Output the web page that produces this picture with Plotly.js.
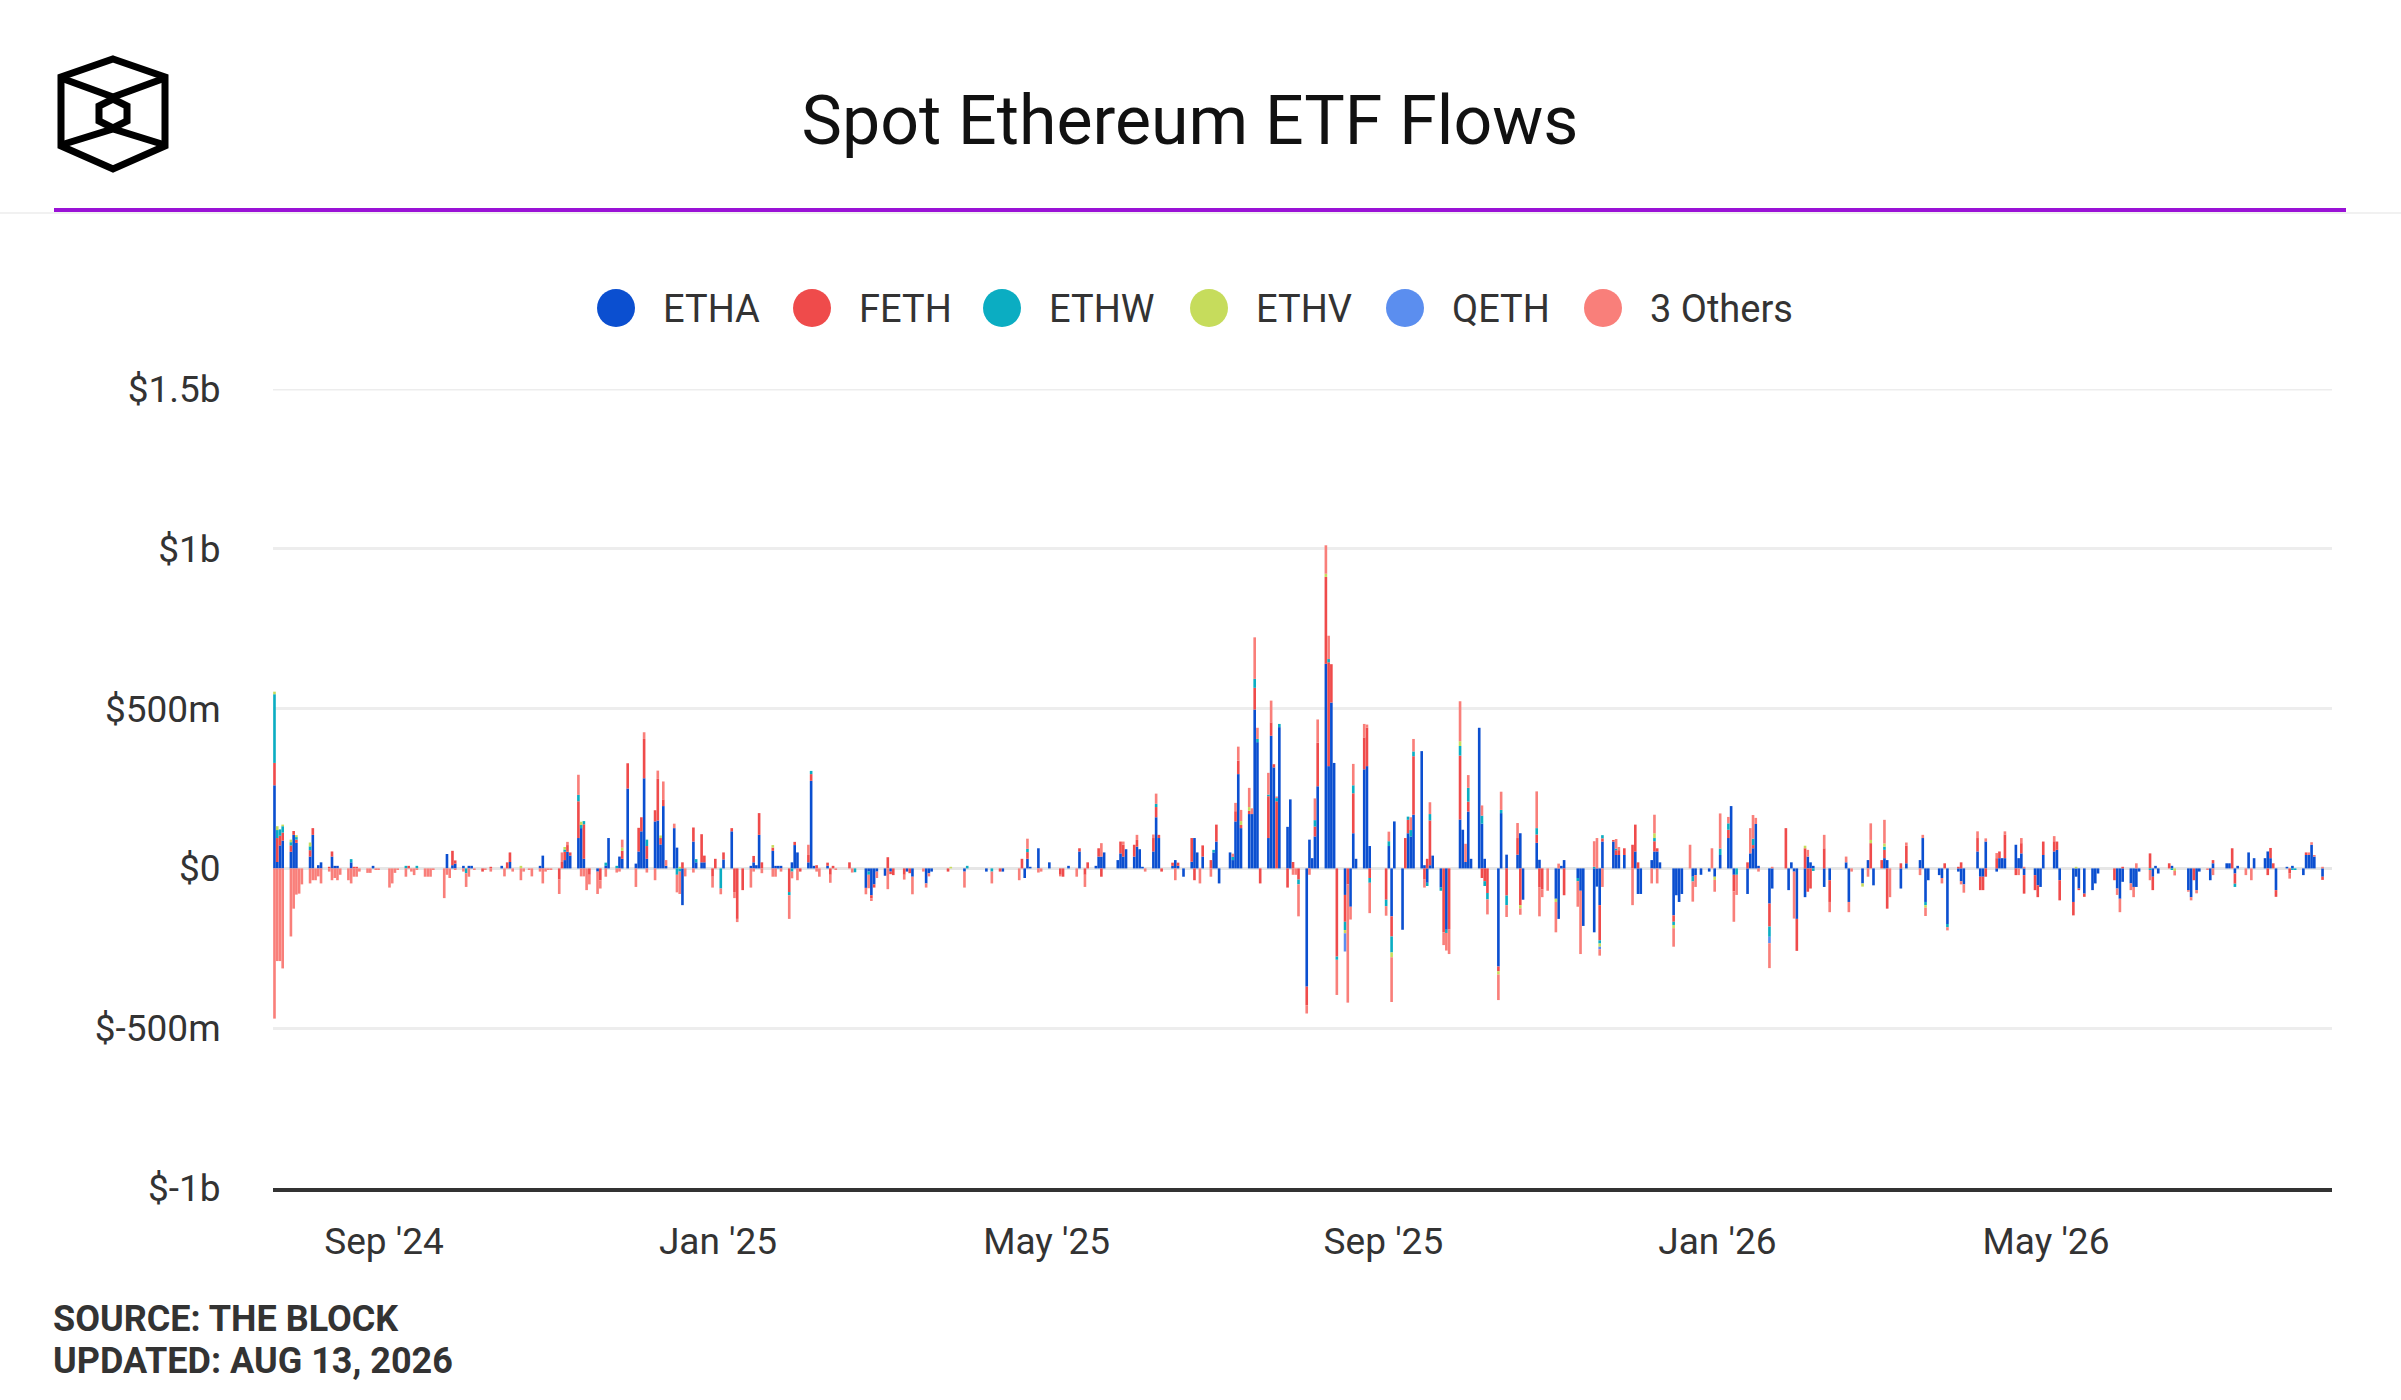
<!DOCTYPE html>
<html><head><meta charset="utf-8">
<script src="https://cdn.plot.ly/plotly-3.0.1.min.js"></script>
<style>html,body{margin:0;padding:0;background:#fff}#chart{width:2401px;height:1400px}</style>
</head><body><div id="chart"></div>
<script>
// ---- DATA (US$ millions, daily net flows, one row per week Mon..Fri starting 2024-07-22) ----
const firstMonday = [2024, 6, 22];
const seriesNames = ['ETHA', 'FETH', 'ETHW', 'ETHV', 'QETH', '3 Others'];
const seriesColors = ['#0b4fd0', '#ef4b4b', '#0badc2', '#c6dc5c', '#5b8eef', '#f97f7a'];
const xTickVals = ['2024-09-01', '2025-01-01', '2025-05-01', '2025-09-01', '2026-01-01', '2026-05-01'];
const xTickText = ["Sep '24", "Jan '25", "May '25", "Sep '25", "Jan '26", "May '26"];
const yTickVals = [-1000, -500, 0, 500, 1000, 1500];
const yTickText = ['$-1b', '$-500m', '$0', '$500m', '$1b', '$1.5b'];

const ETHA_weeks = [
[0,260,20,72,87],[52,105,80,0,0],[37,105,0,10,19],[0,37,8,8,0],[0,19,0,0,0],[0,0,8,0,0],[0,0,0,0,0],[0,0,0,0,0],[0,0,0,0,0],[0,45,0,10,15],
[8,0,8,8,0],[0,0,0,0,0],[8,0,0,20,0],[0,0,0,0,0],[8,40,0,0,0],[0,0,26,52,40],[95,126,30,0,0],[-10,0,0,8,95],[0,37,30,0,250],[15,53,116,282,30],
[147,150,75,195,8],[126,65,0,-115,0],[84,19,0,19,19],[0,0,0,0,28],[116,0,0,0,0],[8,19,10,105,0],[0,55,8,8,8],[0,19,73,50,0],[19,274,8,0,0],[8,0,0,0,0],
[0,0,0,0,0],[-61,-10,-84,-50,-10],[-23,0,-10,0,0],[0,-10,0,-26,0],[0,-47,-15,-10,0],[0,0,0,0,0],[0,-10,0,0,0],[0,0,-10,0,0],[0,-10,0,0,0],[0,0,-30,30,5],
[63,0,0,0,19],[0,0,0,0,8],[0,53,0,0,0],[8,37,37,50,0],[0,26,47,37,60],[37,68,60,5,0],[53,160,95,0,0],[8,26,8,0,-26],[21,95,50,0,37],[0,50,84,-47,0],
[50,26,147,295,126],[170,170,497,395,0],[95,415,316,0,442],[130,216,0,0,0],[-370,90,32,100,257],[640,320,519,330,0],[-83,0,-120,110,30],[310,320,70,0,0],[0,0,70,-150,147],[-192,0,110,100,168],
[367,10,-45,10,40],[-60,0,-192,0,0],[153,121,20,178,30],[440,140,30,0,0],[-307,173,0,43,0],[43,110,-98,0,0],[80,27,0,0,0],[-95,-158,8,26,0],[0,-30,-70,-180,0],[-200,-57,-115,84,0],
[84,42,42,0,42],[0,53,-80,-80,0],[26,53,53,19,0],[0,-147,-84,-105,-80],[0,-26,-21,0,-20],[-10,0,-26,0,42],[95,195,-20,0,0],[-80,47,63,139,8],[0,-110,-63,0,0],[0,-68,19,-10,-158],
[-90,37,19,8,0],[-58,0,-37,0,0],[0,19,-105,0,0],[-47,0,26,0,-53],[0,32,26,0,0],[-63,0,16,0,0],[26,95,-105,-37,0],[-21,-30,0,-174,0],[-10,-40,-50,0,0],[53,-26,-26,84,0],
[-10,32,32,32,0],[74,32,47,-21,0],[-21,-53,-58,42,0],[53,58,-37,0,0],[-105,-26,-63,0,-79],[-68,-47,-16,0,0],[0,0,-63,-95,-42],[-47,-58,-58,-10,0],[0,-26,8,-16,0],[0,8,0,0,0],
[-68,-90,0,-68,-10],[0,-37,16,0,0],[16,16,0,-16,8],[0,50,0,32,0],[32,53,32,0,-68],[0,5,0,8,0],[-21,42,42,74,37],[-26,0,0,0]
];
const FETH_weeks = [
[0,70,75,30,25],[20,12,10,0,0],[20,21,0,0,0],[5,16,0,0,0],[0,0,5,5,0],[0,0,0,0,0],[0,0,0,0,0],[0,8,0,0,0],[0,0,0,0,0],[0,0,0,45,10],
[0,0,0,0,0],[-10,0,0,5,0],[0,0,19,30,0],[0,0,0,0,0],[0,0,0,0,0],[-35,20,26,21,10],[115,0,108,0,-20],[0,-37,0,0,0],[0,0,25,0,79],[0,74,44,123,40],
[35,130,20,21,0],[0,0,0,19,0],[44,0,0,88,21],[-26,30,0,0,22],[10,-74,-158,0,-68],[0,20,0,68,19],[0,10,0,0,0],[-74,0,10,0,-10],[23,21,0,10,0],[10,-20,8,0,0],
[0,19,0,0,0],[0,0,-10,-10,0],[0,35,-8,-21,0],[-20,0,-15,0,0],[0,0,0,0,0],[0,0,-10,0,0],[0,0,0,0,0],[0,0,0,0,0],[-10,0,0,0,0],[0,30,0,21,0],
[0,0,0,0,0],[0,-20,-26,0,0],[0,10,0,-20,19],[0,26,-26,0,0],[0,0,37,37,0],[37,21,0,0,0],[42,32,10,-10,0],[10,0,10,0,0],[74,-37,0,0,35],[26,0,53,0,0],
[0,0,32,42,10],[10,0,68,0,-47],[131,42,10,210,0],[-60,0,20,0,-35],[-58,0,0,31,136],[272,325,120,0,-276],[-84,-50,0,125,0],[100,120,-30,0,0],[0,-98,0,-63,0],[0,95,42,0,183],
[0,-35,30,140,0],[0,-200,0,-190,0],[200,0,0,31,0],[0,-30,-40,-77,0],[-15,0,0,-85,0],[52,-115,0,0,0],[26,-60,-65,0,0],[0,0,0,-84,0],[0,0,0,0,0],[0,0,-110,10,0],
[5,15,15,0,21],[74,84,19,0,0],[0,32,10,0,0],[0,-20,0,0,0],[0,0,0,0,0],[0,0,0,0,0],[26,0,-52,0,0],[19,0,10,0,0],[0,-72,0,0,0],[126,0,0,0,-100],
[63,-73,-63,0,0],[63,0,-68,0,0],[0,0,0,0,0],[0,0,0,79,0],[26,26,-126,0,0],[16,0,55,0,0],[0,0,0,0,0],[0,0,16,0,0],[5,19,0,0,0],[42,-42,-42,-26,0],
[32,21,0,74,0],[-21,0,32,-58,0],[-47,-37,0,42,0],[32,26,-63,0,0],[-42,0,-5,0,-10],[0,0,0,0,0],[0,-37,0,0,5],[0,0,0,0,0],[47,-42,0,0,0],[16,0,0,0,0],
[0,0,-37,0,0],[0,0,10,0,0],[0,0,63,-32,0],[0,0,0,0,0],[0,-21,32,16,-21],[0,0,-16,0,0],[0,8,0,0,0],[-10,0,0,0]
];
const OTHERS_weeks = [
[0,-470,-290,-290,-313],[-213,-126,-82,-79,-50],[-47,-37,-37,-25,-47],[-10,-37,-30,-37,-20],[-37,-47,-26,-26,-10],[-14,-14,0,-5,-5],[0,-60,-47,-14,-5],[-26,0,-10,-21,-5],[-26,-26,-26,-5,0],[-93,-20,-30,0,-5],
[-10,-43,-26,0,-5],[0,-5,0,-10,0],[0,-25,0,0,-10],[-37,-10,0,-5,-25],[-10,-47,-10,-5,-5],[-45,30,0,10,0],[63,-25,-25,-68,-30],[-70,-26,0,-26,0],[-13,-10,25,0,0],[-58,0,0,21,-13],
[-37,26,0,56,18],[14,-55,-70,0,-25],[-13,0,0,0,0],[-34,0,0,-18,0],[0,-19,-10,0,0],[-60,-10,0,0,-15],[0,-26,-26,0,-10],[-74,-21,0,-37,0],[32,0,0,-10,-26],[0,-25,0,-5,0],
[0,0,-13,0,0],[-20,-42,-8,0,-20],[0,-65,0,0,0],[-15,0,0,-55,0],[-10,-13,-10,0,0],[0,0,0,0,0],[0,-50,0,0,0],[0,0,0,0,-37],[0,0,0,0,0],[-37,0,0,32,0],
[-13,-10,0,0,0],[0,-5,0,0,0],[-26,0,0,-38,0],[0,0,42,0,0],[0,0,0,10,0],[0,16,0,0,-10],[11,32,0,0,0],[0,-37,0,0,0],[0,0,0,-47,0],[-26,0,0,0,0],
[0,10,26,44,35],[60,18,130,35,0],[68,68,0,5,0],[0,0,-20,-20,-100],[-26,-20,0,68,73],[89,73,0,0,-110],[0,-370,-40,67,0],[42,10,-95,0,0],[0,-30,30,-140,0],[0,0,0,40,39],
[0,-25,0,37,0],[0,-40,-55,-78,0],[125,0,57,40,0],[0,32,0,-47,0],[-80,57,0,-37,0],[47,-20,0,0,0],[115,-90,-25,0,-70],[-95,15,0,0,0],[0,-80,-198,0,0],[80,95,-20,-58,0],
[0,30,10,0,0],[-115,0,0,0,0],[-47,58,-47,0,0],[0,-58,0,0,0],[74,-63,-37,0,0],[0,63,-37,0,110],[20,0,-95,-63,0],[0,79,74,19,-10],[0,-78,5,0,0],[0,0,0,-147,0],
[0,21,0,0,0],[42,0,-32,0,0],[0,18,-32,-10,0],[0,0,-26,52,0],[0,74,0,-90,0],[0,0,10,0,0],[-21,10,-26,0,0],[0,-17,0,-10,0],[0,-10,-26,0,0],[21,0,0,10,0],
[16,0,0,10,0],[0,-21,16,5,0],[0,0,0,0,0],[16,0,0,0,0],[0,0,0,0,0],[0,0,0,0,0],[0,0,-20,-42,0],[-21,-32,16,0,0],[-32,0,0,0,0],[0,0,-14,0,0],
[-5,-10,0,-10,0],[-5,0,-21,0,0],[0,0,0,0,0],[-21,0,-37,0,0],[0,0,0,0,0],[0,0,-16,0,0],[0,0,8,8,5],[5,0,0,0]
];
const ETHW_dates = ['2024-07-23','2024-07-24','2024-07-25','2024-07-26','2024-07-29','2024-07-31','2024-08-05','2024-08-20','2024-09-09','2024-09-13','2024-10-01','2024-11-06','2024-11-11','2024-11-12','2024-11-13','2024-11-21','2024-11-25','2024-12-06','2024-12-17','2024-12-18','2024-12-24','2025-01-02','2025-01-27','2025-01-28','2025-02-04','2025-02-20','2025-02-25','2025-04-02','2025-04-11','2025-04-24','2025-06-10','2025-07-01','2025-07-08','2025-07-16','2025-07-17','2025-07-21','2025-07-24','2025-07-25','2025-08-01','2025-08-07','2025-08-12','2025-08-15','2025-08-18','2025-08-21','2025-08-27','2025-09-02','2025-09-03','2025-09-04','2025-09-10','2025-09-11','2025-09-12','2025-09-17','2025-09-18','2025-09-22','2025-09-24','2025-09-29','2025-10-02','2025-10-07','2025-10-08','2025-10-09','2025-10-14','2025-10-16','2025-10-27','2025-11-11','2025-11-17','2025-11-19','2025-11-20','2025-11-25','2025-12-09','2025-12-16','2025-12-23','2026-01-02','2026-01-05','2026-01-08','2026-01-14','2026-01-20','2026-02-05','2026-03-03','2026-03-18','2026-03-26','2026-06-08','2026-06-16','2026-07-09','2026-07-30','2026-07-31'];
const ETHW_values = [215,25,20,20,10,8,12,10,8,8,-15,7,20,10,10,10,8,20,-20,-10,10,-63,-10,-10,10,-12,-10,8,-10,10,10,8,10,28,10,5,10,10,-15,20,10,-10,-26,25,-15,-20,15,-50,10,20,15,-10,20,-10,-10,30,43,25,-15,-20,10,-30,20,-10,5,-10,10,5,10,-10,-15,20,20,-20,20,-32,-8,10,-10,-10,-5,-5,-10,-5,-5];
const ETHV_dates = ['2024-07-23','2024-07-24','2024-07-26','2024-07-29','2024-07-31','2024-08-05','2024-10-21','2024-11-06','2024-11-12','2024-11-27','2024-12-11','2024-12-18','2025-01-21','2025-03-27','2025-07-11','2025-07-14','2025-08-11','2025-08-18','2025-09-04','2025-09-29','2025-10-13','2025-10-21','2025-11-03','2025-11-19','2025-12-09','2025-12-16','2025-12-31','2026-02-02','2026-02-23','2026-02-26','2026-03-03','2026-03-18','2026-05-12','2026-06-17'];
const ETHV_values = [8,12,5,8,6,12,8,8,10,10,8,5,8,5,12,12,10,-10,-15,15,-10,-10,-10,-10,15,-10,-10,8,-10,10,10,-8,5,-8];
const QETH_dates = ['2025-08-18','2025-11-19','2026-01-20'];
const QETH_values = [-57,-8,-20];

// ---- build ----
function pad(n){return (n<10?'0':'')+n;}
function weekDates(weeks){
  const out=[];
  weeks.forEach((row,w)=>row.forEach((_,d)=>{
    const dt=new Date(Date.UTC(firstMonday[0],firstMonday[1],firstMonday[2]+7*w+d));
    out.push(dt.getUTCFullYear()+'-'+pad(dt.getUTCMonth()+1)+'-'+pad(dt.getUTCDate()));
  }));
  return out;
}
const flat = a => a.reduce((s,r)=>s.concat(r),[]);
const dailyDates = weekDates(ETHA_weeks);

const traceData = [
  {x: dailyDates, y: flat(ETHA_weeks)},
  {x: dailyDates, y: flat(FETH_weeks)},
  {x: ETHW_dates, y: ETHW_values},
  {x: ETHV_dates, y: ETHV_values},
  {x: QETH_dates, y: QETH_values},
  {x: dailyDates, y: flat(OTHERS_weeks)}
];
const traces = traceData.map((t,i)=>({
  type:'bar', name: seriesNames[i], x:t.x, y:t.y,
  marker:{color: seriesColors[i], line:{width:0}}, showlegend:false
}));

// pixel -> paper helpers (plot area 273..2332 x, 389..1188 y)
const L=273, R=2332, T=389, B=1188;
const px = x => (x-L)/(R-L);
const py = y => (B-y)/(B-T);

const shapes = [];
const annotations = [];
// top gridline at $1.5b (edge of range)
shapes.push({type:'line', xref:'paper', yref:'y', x0:0, x1:1, y0:1500, y1:1500, line:{color:'#ededed', width:3}, layer:'below'});
// header rules
shapes.push({type:'line', xref:'paper', yref:'paper', x0:px(0), x1:px(2401), y0:py(213), y1:py(213), line:{color:'#ececec', width:1.5}});
shapes.push({type:'line', xref:'paper', yref:'paper', x0:px(54), x1:px(2346), y0:py(210), y1:py(210), line:{color:'#9a12d6', width:4}});
// logo (cube outline)
function poly(pts, close){return 'M '+pts.map(p=>px(p[0])+','+py(p[1])).join(' L ')+(close?' Z':'');}
const logoLine = {color:'#000', width:7};
shapes.push({type:'path', xref:'paper', yref:'paper', path: poly([[113,59],[165,77],[165,146],[113,169],[61,146],[61,77]], true), line:logoLine, fillcolor:'rgba(0,0,0,0)'});
shapes.push({type:'path', xref:'paper', yref:'paper', path: poly([[61,78],[113,97],[165,78]], false), line:logoLine});
shapes.push({type:'path', xref:'paper', yref:'paper', path: poly([[61,145],[113,129],[165,145]], false), line:logoLine});
shapes.push({type:'path', xref:'paper', yref:'paper', path: poly([[113,99],[127,106],[127,121],[113,128],[99,121],[99,106]], true), line:logoLine, fillcolor:'#fff'});

// legend (manual)
const legCirc = [616, 812, 1002, 1209, 1405, 1603];
const legText = [661, 857, 1047, 1254, 1450, 1648];
seriesNames.forEach((n,i)=>{
  shapes.push({type:'circle', xref:'paper', yref:'paper', xsizemode:'pixel', ysizemode:'pixel',
    xanchor:px(legCirc[i]), yanchor:py(308), x0:-19, x1:19, y0:-19, y1:19,
    fillcolor:seriesColors[i], line:{width:0}});
  annotations.push({xref:'paper', yref:'paper', x:px(legText[i]), y:py(309), xanchor:'left', yanchor:'middle',
    text:n, showarrow:false, font:{family:'Roboto', size:38, color:'#333'}});
});
// source
annotations.push({xref:'paper', yref:'paper', x:px(51), y:py(1319), xanchor:'left', yanchor:'middle', showarrow:false,
  text:'<b>SOURCE: THE BLOCK</b>', font:{family:'Roboto', size:36, color:'#333'}});
annotations.push({xref:'paper', yref:'paper', x:px(51), y:py(1361), xanchor:'left', yanchor:'middle', showarrow:false,
  text:'<b>UPDATED: AUG 13, 2026</b>', font:{family:'Roboto', size:36, color:'#333'}});

const layout = {
  width:2401, height:1400,
  margin:{l:L, r:2401-R, t:T, b:1400-B, pad:0},
  paper_bgcolor:'#fff', plot_bgcolor:'#fff',
  font:{family:'Roboto', color:'#333'},
  title:{text:'Spot Ethereum ETF Flows', font:{family:'Roboto', size:68, color:'#111'},
    x:1190/2401, xanchor:'center', xref:'container', y:1-120/1400, yanchor:'middle', yref:'container'},
  barmode:'relative', bargap:0.04,
  showlegend:false,
  xaxis:{type:'date', range:['2024-07-22 11:00','2026-08-13 11:00'], tickvals:xTickVals, ticktext:xTickText,
    tickfont:{family:'Roboto', size:37, color:'#333'}, ticks:'outside', ticklen:18, tickcolor:'rgba(0,0,0,0)',
    showgrid:false, zeroline:false, showline:true, linecolor:'#333', linewidth:4, fixedrange:true},
  yaxis:{range:[-1000,1500], tickvals:yTickVals, ticktext:yTickText,
    tickfont:{family:'Roboto', size:37, color:'#333'}, ticks:'outside', ticklen:44, tickcolor:'rgba(0,0,0,0)',
    showgrid:true, gridcolor:'#ededed', gridwidth:3, zeroline:true, zerolinecolor:'#e6e6e6', zerolinewidth:3,
    showline:false, fixedrange:true},
  shapes:shapes, annotations:annotations
};
Plotly.newPlot('chart', traces, layout, {displayModeBar:false, staticPlot:true});
</script>
</body></html>
